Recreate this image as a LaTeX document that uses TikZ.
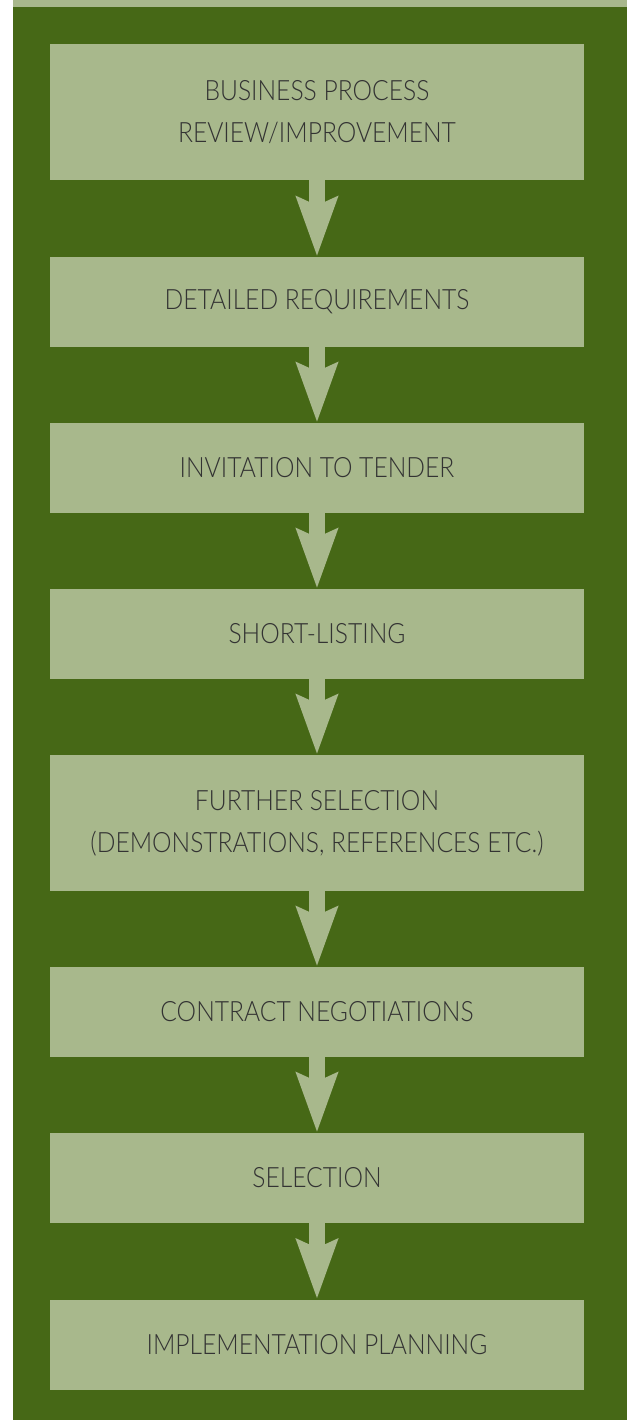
\documentclass[tikz,border=0pt]{standalone}
\usepackage{fontspec}
\setmainfont{Lato Light}[FakeStretch=0.88]
\usetikzlibrary{arrows.meta,positioning}
\definecolor{leaf}{HTML}{466816}
\definecolor{sage}{HTML}{A8B88C}
\definecolor{ink}{HTML}{333333}

\begin{document}
\begin{tikzpicture}[
    x=.5pt,y=-.5pt,
    stage/.style={rectangle,fill=sage,text=ink,minimum width=267pt,inner sep=0pt,
      align=center,font=\fontsize{14}{21}\selectfont},
    tall/.style={minimum height=68pt},
    flat/.style={minimum height=45pt},
    flow/.style={sage,line width=8pt,-{Stealth[length=29.5pt,width=20pt,inset=4pt]}}
  ]
    \useasboundingbox (0,0) rectangle (627,1420);
    % panel behind the stages
    \fill[white] (0,0) rectangle (13,1420);
    \fill[leaf] (13,0) rectangle (627,1420);
    \fill[sage] (13,0) rectangle (627,7);
    \node[stage,tall] (s1) at (317,112) {BUSINESS PROCESS\\REVIEW/IMPROVEMENT};
    \node[stage,flat] (s2) at (317,302) {DETAILED REQUIREMENTS};
    \node[stage,flat] (s3) at (317,468) {INVITATION TO TENDER};
    \node[stage,flat] (s4) at (317,634) {SHORT-LISTING};
    \node[stage,tall] (s5) at (317,823) {FURTHER SELECTION\\(DEMONSTRATIONS, REFERENCES ETC.)};
    \node[stage,flat] (s6) at (317,1012) {CONTRACT NEGOTIATIONS};
    \node[stage,flat] (s7) at (317,1178) {SELECTION};
    \node[stage,flat] (s8) at (317,1344.5) {IMPLEMENTATION PLANNING};
    \foreach \s/\t in {s1/s2,s2/s3,s3/s4,s4/s5,s5/s6,s6/s7,s7/s8} {\draw[flow] (\s) -- (\t);}
  \end{tikzpicture}
\end{document}
